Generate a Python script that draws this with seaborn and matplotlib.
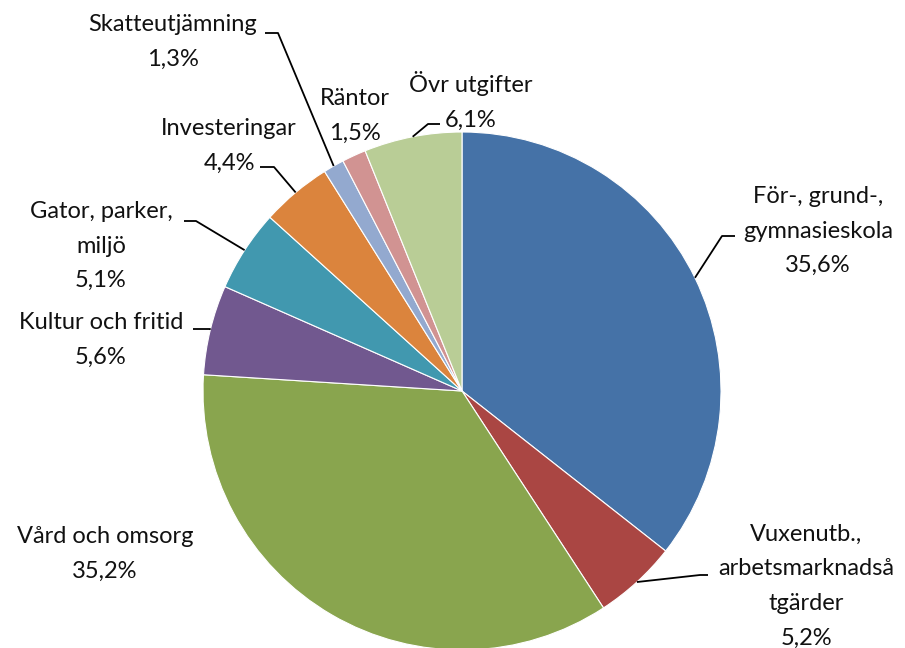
import numpy as np
import matplotlib
matplotlib.use("Agg")
import matplotlib.pyplot as plt
import seaborn as sns

sns.set_theme(style="white")
plt.rcParams['font.family'] = ['Lato', 'DejaVu Sans']

# data, clockwise from 12 o'clock
labels = ["För-, grund-,\ngymnasieskola", "Vuxenutb.,\narbetsmarknadså\ntgärder",
          "Vård och omsorg", "Kultur och fritid", "Gator, parker,\nmiljö",
          "Investeringar", "Skatteutjämning", "Räntor", "Övr utgifter"]
shares = [35.6, 5.2, 35.2, 5.6, 5.1, 4.4, 1.3, 1.5, 6.1]
colors = ["#4572A7", "#AA4643", "#89A54E", "#71588F", "#4198AF",
          "#DB843D", "#93A9CF", "#D19392", "#B9CD96"]

# label layout in pixels: text centre, and leader (outer end x, knee x, y) or None
W, H = 905, 648
CX, CY, R = 462, 391, 259
text_pos = [(818, 231), (806, 586), (105, 554), (101, 340), (101, 246),
            (229, 146), (173, 42), (355, 116), (471, 101)]
leaders = [(735, 722, 236), (708, 700, 575), None, (193, 210, 329), (184, 196, 221),
           (260, 274, 167), (265, 278, 33), None, (440, 428, 124)]


def to_data(px, py):
    return (px - CX) / R, (CY - py) / R


fig = plt.figure(figsize=(W / 100, H / 100), dpi=100)
ax = fig.add_axes([0, 0, 1, 1])
wedges, _ = ax.pie(shares, colors=colors, startangle=90, counterclock=False,
                   radius=1, center=(0, 0),
                   wedgeprops=dict(linewidth=0.8, edgecolor="white"))
ax.set_xlim(to_data(0, 0)[0], to_data(W, 0)[0])
ax.set_ylim(to_data(0, H)[1], to_data(0, 0)[1])
ax.set_aspect("equal")
ax.axis("off")

for w, lab, val, tp, ld in zip(wedges, labels, shares, text_pos, leaders):
    tx, ty = to_data(*tp)
    pct = f"{val:.1f}%".replace(".", ",")
    ax.text(tx, ty, f"{lab}\n{pct}", ha="center", va="center",
            fontsize=17, color="#111111", linespacing=1.8)
    if ld is not None:
        mid = np.deg2rad((w.theta1 + w.theta2) / 2)
        ex, ey = np.cos(mid), np.sin(mid)
        hx, _ = to_data(ld[0], 0)
        kx, ky = to_data(ld[1], ld[2])
        ax.plot([hx, kx, ex], [ky, ky, ey], color="black", lw=1.3,
                solid_capstyle="butt")

fig.savefig("out.png", dpi=100, facecolor="white")
